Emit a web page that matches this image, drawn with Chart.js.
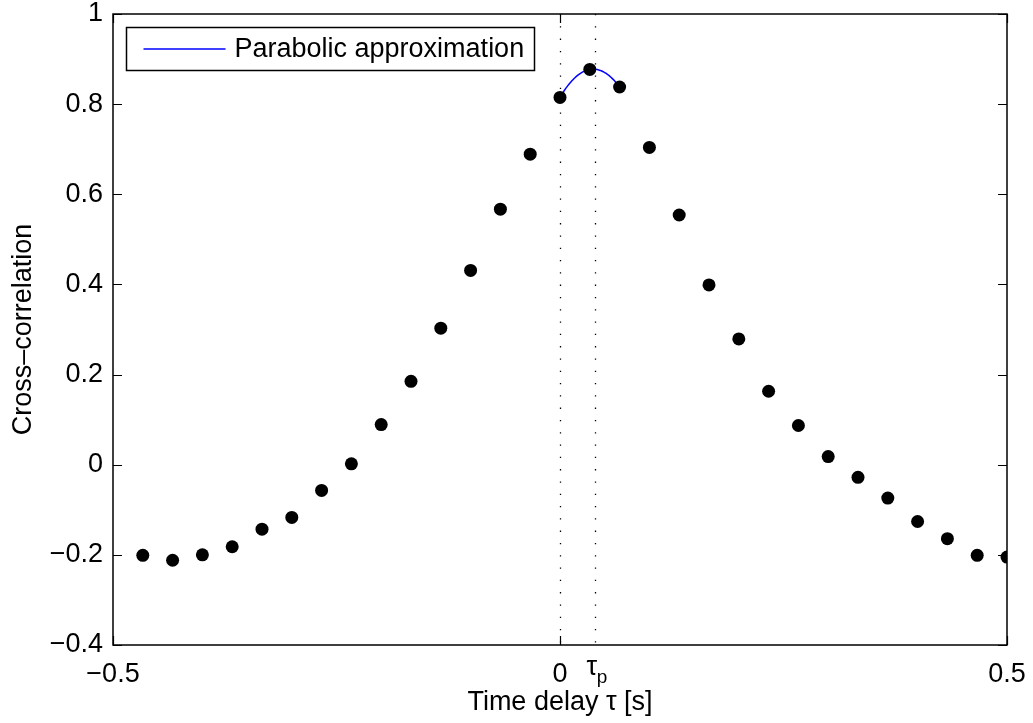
<!DOCTYPE html>
<html>
<head>
<meta charset="utf-8">
<script src="https://cdn.jsdelivr.net/npm/chart.js@4.4.1/dist/chart.umd.min.js"></script>
<style>
  html, body { margin: 0; padding: 0; background: #fff; }
</style>
</head>
<body>
<canvas id="xcorr" width="1033" height="723"></canvas>
<script>
// sampled cross-correlation, one sample every 1/30 s
const lagStep = 1 / 30;
const lagIndex = [-14, -13, -12, -11, -10, -9, -8, -7, -6, -5, -4, -3, -2, -1,
                  0, 1, 2, 3, 4, 5, 6, 7, 8, 9, 10, 11, 12, 13, 14, 15];
const xcorrValues = [-0.201, -0.212, -0.200, -0.182, -0.143, -0.117, -0.057, 0.002,
                     0.089, 0.185, 0.303, 0.431, 0.567, 0.689, 0.815, 0.877, 0.838,
                     0.704, 0.554, 0.399, 0.279, 0.163, 0.087, 0.018, -0.028, -0.074,
                     -0.126, -0.164, -0.201, -0.205];
// the three samples the parabola goes through (lags 0, 1, 2)
const fitIndex = [14, 15, 16];
const tauP = 0.039;

const xTickValues = [-0.5, 0, 0.5];
const xRange = [-0.5, 0.5];
const yRange = [-0.4, 1];
const yStep = 0.2;

const FONT = { family: 'Liberation Sans, Arial, Helvetica, sans-serif', size: 27 };

const samples = lagIndex.map((k, i) => ({ x: k * lagStep, y: xcorrValues[i] }));

// parabola through the three fit samples (Lagrange form)
const fitPts = fitIndex.map(i => samples[i]);
function parabola(t) {
  const [p0, p1, p2] = fitPts;
  return p0.y * (t - p1.x) * (t - p2.x) / ((p0.x - p1.x) * (p0.x - p2.x)) +
         p1.y * (t - p0.x) * (t - p2.x) / ((p1.x - p0.x) * (p1.x - p2.x)) +
         p2.y * (t - p0.x) * (t - p1.x) / ((p2.x - p0.x) * (p2.x - p1.x));
}
const fitCurve = [];
for (let j = 0; j <= 40; j++) {
  const t = fitPts[0].x + (fitPts[2].x - fitPts[0].x) * j / 40;
  fitCurve.push({ x: t, y: parabola(t) });
}

function fmtTick(v) {
  const s = String(Math.round(v * 10) / 10);
  return s.replace('-', '\u2212');
}

// box, inward ticks, dotted markers, tau_p label and legend
const axesDecor = {
  id: 'axesDecor',
  beforeDatasetsDraw(chart) {
    const { ctx, chartArea: a, scales: { x } } = chart;
    ctx.save();
    ctx.strokeStyle = '#000';
    ctx.lineWidth = 1.3;
    ctx.setLineDash([1.3, 11]);
    [0, tauP].forEach(v => {
      const px = Math.round(x.getPixelForValue(v)) + 0.5;
      ctx.beginPath();
      ctx.moveTo(px, a.top);
      ctx.lineTo(px, a.bottom);
      ctx.stroke();
    });
    ctx.restore();
  },
  afterDraw(chart) {
    const { ctx, chartArea: a, scales: { x, y } } = chart;
    const tl = 9;
    ctx.save();
    ctx.strokeStyle = '#000';
    ctx.lineWidth = 1.5;
    ctx.strokeRect(a.left, a.top, a.right - a.left, a.bottom - a.top);

    ctx.lineWidth = 1.2;
    ctx.beginPath();
    y.ticks.forEach(t => {
      const py = Math.round(y.getPixelForValue(t.value)) + 0.5;
      ctx.moveTo(a.left, py); ctx.lineTo(a.left + tl, py);
      ctx.moveTo(a.right, py); ctx.lineTo(a.right - tl, py);
    });
    x.ticks.forEach(t => {
      const px = Math.round(x.getPixelForValue(t.value)) + 0.5;
      ctx.moveTo(px, a.bottom); ctx.lineTo(px, a.bottom - tl);
      ctx.moveTo(px, a.top); ctx.lineTo(px, a.top + tl);
    });
    ctx.stroke();

    // tau_p tick label with subscript
    const tx = x.getPixelForValue(tauP);
    ctx.fillStyle = '#000';
    ctx.textBaseline = 'alphabetic';
    ctx.textAlign = 'center';
    ctx.font = `${FONT.size}px ${FONT.family}`;
    ctx.fillText('\u03c4', tx - 3, a.bottom + 30);
    ctx.textAlign = 'left';
    ctx.font = `19px ${FONT.family}`;
    ctx.fillText('p', tx + 2, a.bottom + 38);

    // legend
    const lx = 126.5, ly = 27.5, lw = 408, lh = 43;
    ctx.fillStyle = '#fff';
    ctx.fillRect(lx, ly, lw, lh);
    ctx.strokeStyle = '#000';
    ctx.lineWidth = 1.5;
    ctx.strokeRect(lx, ly, lw, lh);
    ctx.strokeStyle = '#0000ff';
    ctx.lineWidth = 1.3;
    ctx.beginPath();
    ctx.moveTo(lx + 17, ly + 21.5);
    ctx.lineTo(lx + 99, ly + 21.5);
    ctx.stroke();
    ctx.fillStyle = '#000';
    ctx.font = `${FONT.size}px ${FONT.family}`;
    ctx.textBaseline = 'middle';
    ctx.fillText('Parabolic approximation', lx + 108, ly + 22);
    ctx.restore();
  }
};

new Chart(document.getElementById('xcorr'), {
  type: 'scatter',
  data: {
    datasets: [
      {
        label: 'Parabolic approximation',
        data: fitCurve,
        showLine: true,
        borderColor: '#0000ff',
        borderWidth: 1.5,
        pointRadius: 0,
        fill: false,
        order: 2
      },
      {
        label: 'Cross-correlation',
        data: samples,
        showLine: false,
        pointRadius: 6.5,
        pointBackgroundColor: '#000',
        pointBorderColor: '#000',
        pointBorderWidth: 0,
        order: 1
      }
    ]
  },
  options: {
    responsive: false,
    animation: false,
    layout: { padding: { top: 14, right: 26, left: 0, bottom: 0 } },
    plugins: {
      legend: { display: false },
      tooltip: { enabled: false }
    },
    scales: {
      x: {
        type: 'linear',
        min: xRange[0],
        max: xRange[1],
        afterBuildTicks: s => { s.ticks = xTickValues.map(v => ({ value: v })); },
        afterFit: s => { s.height = 78; s.paddingLeft = 0; s.paddingRight = 0; },
        grid: { display: false, drawTicks: false },
        border: { display: false },
        ticks: {
          font: FONT, color: '#000', padding: 13,
          maxRotation: 0, autoSkip: false, callback: fmtTick
        },
        title: {
          display: true, text: 'Time delay \u03c4 [s]', font: FONT, color: '#000',
          padding: { top: 0, bottom: 4 }
        }
      },
      y: {
        type: 'linear',
        min: yRange[0],
        max: yRange[1],
        afterFit: s => { s.width = 113; s.paddingTop = 0; s.paddingBottom = 0; },
        grid: { display: false, drawTicks: false },
        border: { display: false },
        ticks: { stepSize: yStep, font: FONT, color: '#000', padding: 10, callback: fmtTick },
        title: {
          display: true, text: 'Cross\u2013correlation', font: FONT, color: '#000',
          padding: { top: 7, bottom: 0 }
        }
      }
    }
  },
  plugins: [axesDecor]
});
</script>
</body>
</html>
